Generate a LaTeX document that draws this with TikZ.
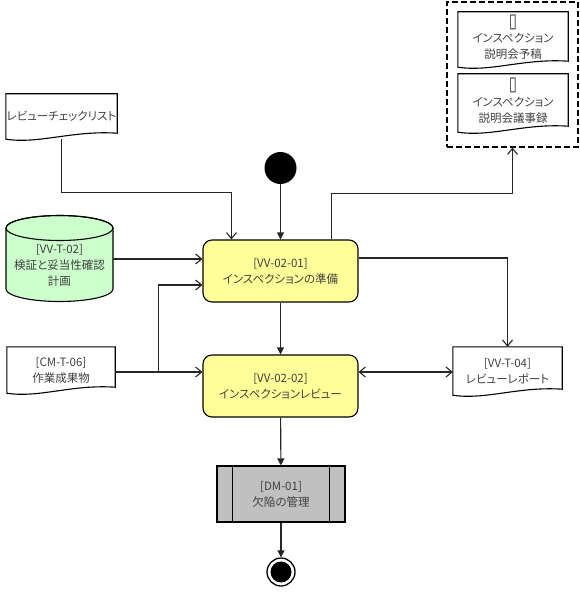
\documentclass[tikz,border=0pt]{standalone}
\usepackage{fontspec}
\setmainfont{Noto Sans CJK JP}[RawFeature=+palt]
\newfontfamily\dejavu{DejaVu Sans}
\usetikzlibrary{arrows.meta,calc,backgrounds}
\definecolor{txtgray}{HTML}{404040}
\definecolor{actyellow}{HTML}{FFFF99}
\definecolor{dbgreen}{HTML}{CCFFCC}
\definecolor{subgray}{HTML}{C0C0C0}
\newcommand\drawdoc[1]{%
  \draw[docline] (#1.north west) -- (#1.north east) -- ($(#1.south east)+(0,-6)$)
    .. controls ($(#1.south west)!0.6!(#1.south east)+(0,-9)$) and ($(#1.south west)!0.3!(#1.south east)+(0,5)$) .. (#1.south west) -- cycle;}
\newcommand\tofu{\raisebox{-0.5pt}[8pt][1pt]{\scalebox{1.3}[1.7]{\dejavu ▯}}}
\tikzset{
  lbl/.style={align=center, text=txtgray, font=\fontsize{11.5}{16}\selectfont, inner sep=0pt},
  docnode/.style={lbl, rectangle},
  docline/.style={draw=black, line width=1.1pt},
  activity/.style={lbl, draw=black, line width=1.1pt, fill=actyellow, rounded corners=9pt, minimum width=155, minimum height=62},
  subact/.style={lbl, draw=black, line width=1.1pt, fill=subgray, minimum width=128, minimum height=56},
  conn/.style={draw=black!85, line width=1.1pt},
  ctrl/.style={conn, -{Triangle[length=7pt,width=7pt]}},
  objflow/.style={conn, -{Straight Barb[length=6pt,width=10pt]}},
  biflow/.style={conn, {Straight Barb[length=6pt,width=10pt]}-{Straight Barb[length=6pt,width=10pt]}},
}
\begin{document}
\begin{tikzpicture}[x=1pt,y=-1pt]
\useasboundingbox (0,0) rectangle (579,599);

% group of documents
\node[draw=black, line width=1.2pt, dash pattern=on 6pt off 3pt, minimum width=131, minimum height=145, inner sep=0pt] (grp) at (512.5,74.5) {};
\node[docnode, minimum width=110, minimum height=55] (doc1) at (513,39.5) {\tofu\\インスペクション\\説明会予稿};
\drawdoc{doc1}
\node[docnode, minimum width=110, minimum height=58] (doc2) at (513,103) {\tofu\\インスペクション\\説明会議事録};
\drawdoc{doc2}

% checklist
\node[docnode, minimum width=111, minimum height=45] (chk) at (61.5,116.5) {レビューチェックリスト};
\drawdoc{chk}

% plan (datastore cylinder)
\node[lbl, minimum width=107, minimum height=70] (vvt02) at (59.5,265) {[VV-T-02]\\検証と妥当性確認\\計画};
\begin{scope}[on background layer]
  \filldraw[fill=dbgreen, draw=black, line width=1.1pt]
    (6,228) -- (6,289) arc (180:0:53.5 and 12.5) -- (113,228) arc (0:-180:53.5 and 12.5) -- cycle;
  \draw[black, line width=1.1pt] (59.5,228) ellipse (53.5 and 12.5);
\end{scope}

% work product
\node[docnode, minimum width=108, minimum height=46] (cmt06) at (61,370) {[CM-T-06]\\作業成果物};
\drawdoc{cmt06}

% review report
\node[docnode, minimum width=109, minimum height=48] (vvt04) at (507.5,371) {[VV-T-04]\\レビューレポート};
\drawdoc{vvt04}

% start
\node[circle, fill=black, minimum size=32, inner sep=0pt] (start) at (280.5,168) {};

% activities
\node[activity] (vv0201) at (280.5,271) {[VV-02-01]\\インスペクションの準備};
\node[activity] (vv0202) at (280.5,386) {[VV-02-02]\\インスペクションレビュー};

% sub activity
\node[subact] (dm01) at (281,494) {[DM-01]\\欠陥の管理};
\draw[black, line width=1.1pt] ($(dm01.north west)+(16,0)$) -- ($(dm01.south west)+(16,0)$);
\draw[black, line width=1.1pt] ($(dm01.north east)+(-16,0)$) -- ($(dm01.south east)+(-16,0)$);

% end
\node[circle, draw=black, line width=1.3pt, fill=white, minimum size=28, inner sep=0pt] (end) at (281,572) {};
\node[circle, fill=black, minimum size=21, inner sep=0pt] (endin) at (end.center) {};

% control flow
\draw[ctrl] (start) -- (start |- vv0201.north);
\draw[ctrl] (vv0201) -- (vv0202);
\draw[ctrl] (vv0202) -- (dm01);
\draw[ctrl] (dm01) -- (end);

% object flows
\draw[objflow] (chk.south) -- ++(0,53) -| ($(vv0201.north west)+(29,0)$);
\draw[objflow] (113,259) -- (vv0201.west |- 0,259);
\draw[objflow] ($(cmt06.east)+(0,2)$) -- ($(cmt06.east -| vv0202.west)+(0,2)$);
\draw[objflow] ($(cmt06.east)+(43,2)$) |- ($(vv0201.west)+(0,14)$);
\draw[objflow] ($(vv0201.north east)+(-27,0)$) -- ++(0,-46) -| (grp.south);
\draw[objflow] ($(vv0201.east)+(0,-13)$) -| (vvt04.north);
\draw[biflow] ($(vv0202.east)+(0,-14)$) -- ($(vv0202.east -| vvt04.west)+(0,-14)$);
\end{tikzpicture}
\end{document}
